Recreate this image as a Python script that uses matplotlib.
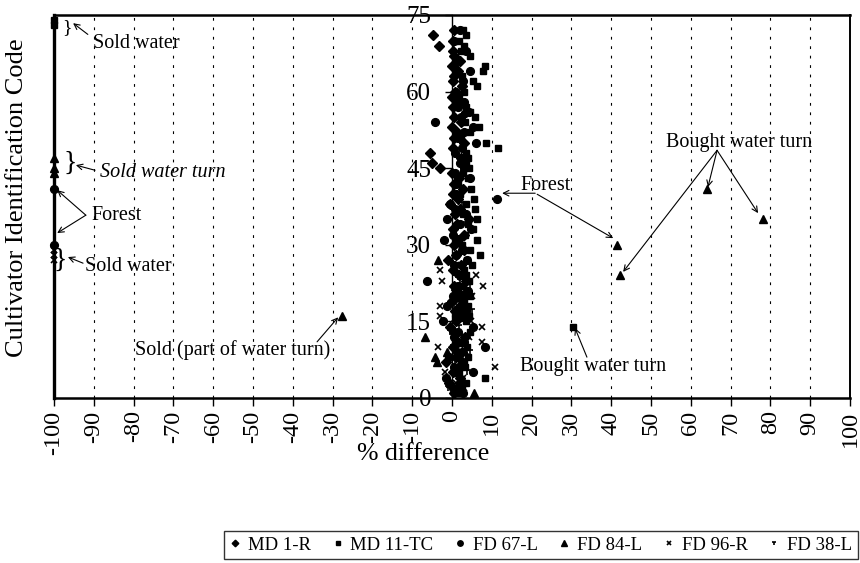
import matplotlib
matplotlib.use("Agg")
import matplotlib.pyplot as plt
from matplotlib.path import Path

plt.rcParams['font.family'] = ['Liberation Serif', 'DejaVu Serif']
plt.rcParams['axes.unicode_minus'] = False

# cultivator code (y) and % difference (x) for each series
md1r_code = [1, 2, 3, 4, 5, 6, 7, 8, 9, 10, 11, 12, 13, 14, 15, 16, 17, 18,
             19, 20, 21, 22, 23, 24, 25, 26, 27, 28, 29, 30, 31, 32, 33, 34, 35, 36,
             37, 38, 39, 40, 41, 42, 43, 44, 45, 46, 47, 48, 49, 50, 51, 52, 53, 54,
             55, 56, 57, 58, 59, 60, 61, 62, 63, 64, 65, 66, 67, 68, 69, 70, 71, 72]
md1r_pct = [0.5, 1.2, -0.8, 2.1, 0.3, 1.8, -1.5, 0.9, 2.6, 0.2, 1.4, 3.2, 0.6, -0.4,
            1.1, 2.4, 0.8, 1.9, 0.1, 2.8, 1.3, 0.4, 3.5, 1.7, 0.2, 2.2, -1.1, 1.0,
            3.1, 0.5, 1.6, 2.9, 0.3, 1.2, 4.2, 0.7, 2.0, -0.6, 1.5, 0.2, 2.7, 0.4,
            1.8, 0.1, -3.0, -5.0, 2.3, -5.5, 0.2, 3.0, 0.4, 1.2, 0.1, 2.2, 0.5, 3.4,
            0.2, 1.3, 0.0, 0.8, 2.5, 0.3, 0.6, 1.4, 0.1, 2.0, 0.4, 0.2, -3.3, 0.3,
            -4.8, 0.5]

md11tc_code = [74, 73, 72, 71, 70, 69, 68, 67, 66, 65, 64, 63, 62, 61, 60, 59, 58,
               57, 56, 55, 54, 53, 52, 51, 50, 49, 48, 47, 46, 45, 44, 43, 42, 41,
               40, 39, 38, 37, 36, 35, 34, 33, 32, 31, 30, 29, 28, 27, 26, 25, 24,
               23, 22, 21, 20, 19, 18, 17, 16, 15, 14, 13, 12, 11, 10, 9, 8, 7, 6,
               5, 4, 3, 2, 1]
md11tc_pct = [-100, -100, 2.8, 3.5, 1.8, 3.0, 2.2, 4.5, 1.6, 8.4, 7.8, 2.5, 5.2, 6.3,
              2.9, 1.8, 2.4, 3.6, 4.6, 5.9, 3.2, 6.8, 4.4, 2.2, 8.5, 11.6, 3.4, 4.0,
              3.5, 4.2, 2.8, 3.9, 1.5, 4.8, 2.1, 5.5, 3.6, 5.8, 2.7, 6.4, 4.1, 5.2,
              3.3, 6.2, 2.5, 4.4, 7.0, 3.8, 5.1, 2.9, 3.6, 4.3, 2.8, 3.7, 4.5, 3.1,
              3.9, 2.6, 4.2, 3.4, 30.4, 4.6, 3.0, 2.3, 3.8, 2.1, 4.0, 2.9, 3.3, 1.8,
              8.4, 3.6, 2.4, 1.5]

fd67l_code = [54, 41, 40, 39, 38, 37, 36, 35, 34, 33, 32, 31, 30, 29, 28, 27, 26,
              24, 23, 22, 21, 20, 19, 18, 17, 16, 15, 14, 13, 12, 11, 10, 9, 8, 7,
              6, 5, 4, 3, 2, 1, 72, 70, 68, 66, 64, 62, 60, 58, 57, 56, 55, 53, 52,
              51, 50, 49, 48, 47, 46, 45, 44, 43, 42]
fd67l_pct = [-4.3, -100, 1.0, 11.3, -0.5, 0.8, 3.4, -1.2, 2.0, 4.8, 0.3, -2.0, -100,
             2.6, 1.0, 3.8, 0.6, 2.3, -6.3, 1.5, 4.0, 0.2, 2.8, -1.2, 3.5, 0.9, -2.2,
             5.3, 1.6, 0.4, 3.0, 8.3, 1.2, -0.8, 2.4, 0.6, 5.2, -1.5, 1.9, 0.3, 2.7,
             2.0, 0.6, 3.4, 1.2, 4.6, 2.8, 0.9, 3.0, 1.5, 4.2, 2.2, 5.4, 3.1, 1.4,
             6.0, 2.5, 0.8, 3.6, 1.9, 2.9, 0.7, 4.4, 1.1]

fd84l_code = [47, 45, 44, 41, 35, 30, 24, 16, 12, 27, 9, 7, 8, 1, 20, 18, 5, 3,
              11, 22]
fd84l_pct = [-100, -100, -100, 64.1, 78.1, 41.5, 42.2, -27.6, -6.8, -3.5, -1.3,
             -3.8, -4.2, 5.5, 2.1, 3.4, 1.0, -0.5, 2.6, 0.8]

fd96r_code = [29, 28, 27, 25, 23, 22, 18, 16, 14, 10, 11, 6, 20, 12, 3, 5, 8, 1,
              2, 24, 19, 4, 7, 9, 13, 15, 17, 21, 26, 30]
fd96r_pct = [-100, -100, -100, -3.0, -2.5, 7.8, -3.0, -3.0, 7.5, -3.5, 7.5, 10.8,
             5.0, 4.2, 1.0, -1.8, 2.4, 0.5, 3.0, 6.0, 1.5, 2.8, 1.9, 3.6, 0.4, 4.8,
             2.2, 3.3, 1.1, 2.5]

fd38l_code = [21, 15, 4, 9, 13, 26, 17, 7, 2, 3, 5, 6, 10, 11, 12, 14, 16, 18,
              19, 20, 22, 23, 24, 25, 28, 30, 32, 34, 36, 38]
fd38l_pct = [3.0, 1.2, 2.0, 4.5, -0.5, 2.0, 5.0, 0.8, -1.0, 2.5, 3.8, 1.5, 0.3,
             2.2, 4.0, 1.8, 3.1, 0.6, 2.8, 1.4, 4.4, 2.0, 0.9, 3.3, 1.7, 2.4, 0.5,
             3.6, 1.2, 2.6]

series_names = ["MD 1-R", "MD 11-TC", "FD 67-L", "FD 84-L", "FD 96-R", "FD 38-L"]

# T-shaped marker used for FD 38-L
tee = Path([(-1, 0.6), (1, 0.6), (0, 0.6), (0, -1)],
           [Path.MOVETO, Path.LINETO, Path.MOVETO, Path.LINETO])

fig = plt.figure(figsize=(8.6, 5.63), dpi=100)
ax = fig.add_axes([54 / 860, 1 - 398 / 563, 796 / 860, 383 / 563])

styles = [
    (md1r_pct, md1r_code, dict(marker='D', ms=4.8)),
    (md11tc_pct, md11tc_code, dict(marker='s', ms=4.8)),
    (fd67l_pct, fd67l_code, dict(marker='o', ms=5.6)),
    (fd84l_pct, fd84l_code, dict(marker='^', ms=5.4)),
    (fd96r_pct, fd96r_code, dict(marker='x', ms=5.0, mew=1.2)),
    (fd38l_pct, fd38l_code, dict(marker=tee, ms=5.0, mew=1.2)),
]
for (xs, ys, st), name in zip(styles, series_names):
    ax.plot(xs, ys, linestyle='none', color='black', mfc='black', mec='black',
            label=name, clip_on=False, zorder=3, **st)

ax.set_xlim(-100, 100)
ax.set_ylim(0, 75)

ax.spines['left'].set_position(('data', 0))
ax.spines['left'].set_linewidth(1.0)
ax.spines['top'].set_linewidth(1.8)
ax.spines['bottom'].set_linewidth(1.8)
ax.spines['right'].set_linewidth(1.4)
ax.axvline(-100, color='black', lw=2.4, clip_on=False, zorder=4)

for gx in [-90, -80, -70, -60, -50, -40, -30, -20, -10, 10, 20, 30, 40, 50, 60, 70, 80, 90]:
    ax.axvline(gx, color='black', lw=0.8, linestyle=(0, (2.5, 6)), zorder=1)

xt = list(range(-100, 101, 10))
ax.set_xticks(xt)
ax.set_xticklabels([str(v) for v in xt], rotation=90, fontsize=17.5)
ax.set_yticks([0, 15, 30, 45, 60, 75])
ax.set_yticklabels(['0', '15', '30', '45', '60', '75'], fontsize=18)
ax.tick_params(axis='x', direction='out', length=6, width=1.0, pad=3)
ax.tick_params(axis='y', direction='out', length=5, width=1.0, pad=10)

fig.text(423 / 860, 1 - 454 / 563, "% difference", fontsize=18.5, ha='center', va='center')
fig.text(17 / 860, 1 - 198 / 563, "Cultivator Identification Code", fontsize=19,
         rotation=90, ha='center', va='center')

arr = dict(arrowstyle='->', color='black', lw=0.8, shrinkA=0, shrinkB=0)
tfs = 14.5

# left side notes
ax.text(-90.2, 69.5, "Sold water", fontsize=tfs, va='center')
ax.text(-96.7, 72.6, "}", fontsize=14, va='center', ha='center')
ax.annotate("", xy=(-95.2, 73.4), xytext=(-91.5, 71.2), arrowprops=arr, annotation_clip=False)

ax.text(-88.4, 44.2, "Sold water turn", fontsize=tfs, va='center', style='italic')
ax.text(-96.0, 46.0, "}", fontsize=20, va='center', ha='center')
ax.annotate("", xy=(-94.5, 45.6), xytext=(-89.7, 44.6), arrowprops=arr)

ax.text(-90.5, 35.8, "Forest", fontsize=tfs, va='center')
ax.annotate("", xy=(-99.2, 40.7), xytext=(-92.0, 35.8), arrowprops=arr, annotation_clip=False)
ax.annotate("", xy=(-99.2, 32.3), xytext=(-92.0, 35.8), arrowprops=arr, annotation_clip=False)

ax.text(-92.2, 25.8, "Sold water", fontsize=tfs, va='center')
ax.text(-98.4, 27.0, "}", fontsize=20, va='center', ha='center')
ax.annotate("", xy=(-96.5, 27.6), xytext=(-92.7, 26.4), arrowprops=arr)

ax.text(-79.6, 9.4, "Sold (part of water turn)", fontsize=tfs, va='center')
ax.annotate("", xy=(-28.6, 15.8), xytext=(-33.9, 11.0), arrowprops=arr)

# right side notes
ax.text(17.1, 41.6, "Forest", fontsize=tfs, va='center')
ax.annotate("", xy=(12.6, 40.1), xytext=(20.9, 40.1), arrowprops=arr)
ax.annotate("", xy=(40.5, 31.3), xytext=(21.4, 39.9), arrowprops=arr)

ax.text(72.1, 50.1, "Bought water turn", fontsize=tfs, va='center', ha='center')
for hx, hy in [(43.0, 24.7), (64.3, 41.3), (76.9, 36.2)]:
    ax.annotate("", xy=(hx, hy), xytext=(66.6, 48.5), arrowprops=arr)

ax.text(17.1, 6.1, "Bought water turn", fontsize=tfs, va='center')
ax.annotate("", xy=(30.9, 13.7), xytext=(33.9, 8.0), arrowprops=arr)

leg = fig.legend(loc='center', bbox_to_anchor=(541 / 860, 1 - 545 / 563), ncol=6,
                 fontsize=13.5, frameon=True, fancybox=False, edgecolor='black',
                 markerscale=0.7, handlelength=0.55, handletextpad=0.4,
                 columnspacing=1.15, borderpad=0.3, borderaxespad=0)
leg.get_frame().set_linewidth(1.0)

fig.savefig("out.png", dpi=100)
